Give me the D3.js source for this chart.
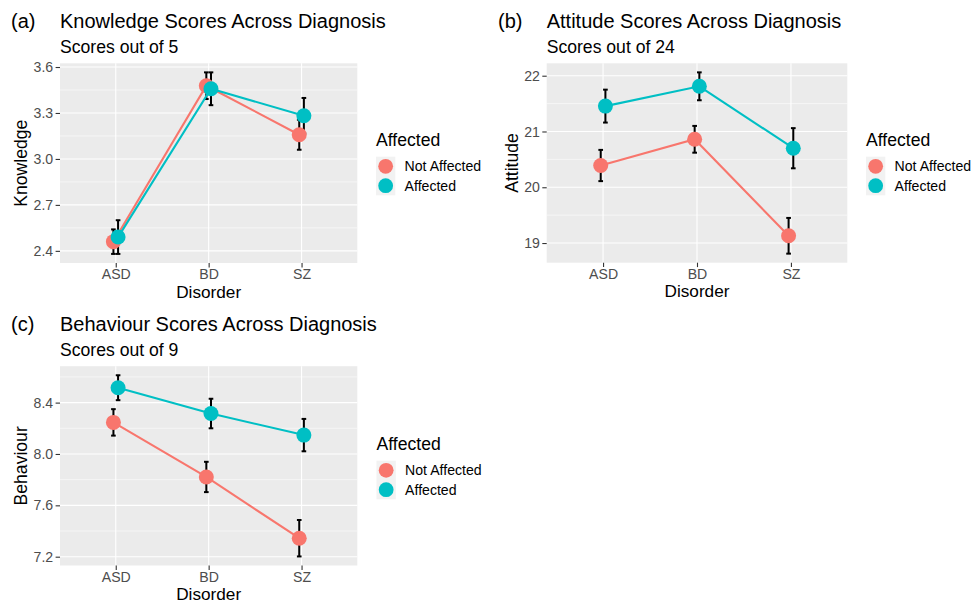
<!DOCTYPE html>
<html>
<head>
<meta charset="utf-8">
<script src="https://cdn.jsdelivr.net/npm/d3@7"></script>
<style>
  html, body { margin: 0; padding: 0; background: #ffffff; }
  svg { display: block; font-family: "Liberation Sans", Arial, Helvetica, sans-serif; }
</style>
</head>
<body>
<svg id="chart" width="974" height="604"></svg>
<script>
// ---------------- data ----------------
const categories = ["ASD", "BD", "SZ"];
const groups = ["Not Affected", "Affected"];
const groupColors = ["#F8766D", "#00BFC4"];

const knowledgeNotAffected   = [2.460, 3.478, 3.158];
const knowledgeNotAffectedSE = [0.080, 0.087, 0.098];
const knowledgeAffected      = [2.490, 3.458, 3.282];
const knowledgeAffectedSE    = [0.110, 0.107, 0.116];
const knowledgeTicks = [2.4, 2.7, 3.0, 3.3, 3.6];
const knowledgeTickLabels = ["2.4", "2.7", "3.0", "3.3", "3.6"];

const attitudeNotAffected   = [20.39, 20.86, 19.13];
const attitudeNotAffectedSE = [0.28, 0.24, 0.32];
const attitudeAffected      = [21.455, 21.81, 20.70];
const attitudeAffectedSE    = [0.295, 0.25, 0.36];
const attitudeTicks = [19, 20, 21, 22];
const attitudeTickLabels = ["19", "20", "21", "22"];

const behaviourNotAffected   = [8.246, 7.821, 7.344];
const behaviourNotAffectedSE = [0.103, 0.118, 0.142];
const behaviourAffected      = [8.516, 8.315, 8.147];
const behaviourAffectedSE    = [0.097, 0.115, 0.126];
const behaviourTicks = [7.2, 7.6, 8.0, 8.4];
const behaviourTickLabels = ["7.2", "7.6", "8.0", "8.4"];

const panelTags = ["(a)", "(b)", "(c)"];
const panelTitles = ["Knowledge Scores Across Diagnosis", "Attitude Scores Across Diagnosis", "Behaviour Scores Across Diagnosis"];
const panelSubtitles = ["Scores out of 5", "Scores out of 24", "Scores out of 9"];
const yAxisTitles = ["Knowledge", "Attitude", "Behaviour"];
const xAxisTitle = "Disorder";
const legendTitle = "Affected";

// ---------------- drawing ----------------
const svg = d3.select("#chart");
const FONT_TITLE = 20, FONT_SUB = 17.6, FONT_AXT = 17.6, FONT_XT = 17.2, FONT_TICK = 14.1;

function drawPanel(cfg) {
  const { box, means, ses, ticks, tickLabels, tag, title, subtitle, ylab, legend, tagX, yTitleX } = cfg;
  const g = svg.append("g");

  // y domain: data range incl. error bars, expanded 5%
  const lows = [], highs = [];
  means.forEach((m, gi) => m.forEach((v, i) => { lows.push(v - ses[gi][i]); highs.push(v + ses[gi][i]); }));
  const lo = d3.min(lows), hi = d3.max(highs), pad = (hi - lo) * 0.05;
  const y = d3.scaleLinear().domain([lo - pad, hi + pad]).range([box.y1, box.y0]);
  const x = d3.scalePoint().domain(categories).range([box.x0, box.x1]).padding(0.6);
  const dodge = x.step() * 0.025;
  const capHalf = x.step() * 0.025;

  // panel background
  g.append("rect").attr("x", box.x0).attr("y", box.y0)
    .attr("width", box.x1 - box.x0).attr("height", box.y1 - box.y0).attr("fill", "#EBEBEB");

  // minor grid
  const step = ticks[1] - ticks[0];
  const minor = [];
  for (let i = -1; i < ticks.length; i++) {
    const v = ticks[0] + step * (i + 0.5);
    if (v > y.domain()[0] && v < y.domain()[1]) minor.push(v);
  }
  g.selectAll(".minor").data(minor).join("line")
    .attr("x1", box.x0).attr("x2", box.x1)
    .attr("y1", d => y(d)).attr("y2", d => y(d))
    .attr("stroke", "#ffffff").attr("stroke-width", 0.55);
  // major grid
  g.selectAll(".majorY").data(ticks).join("line")
    .attr("x1", box.x0).attr("x2", box.x1)
    .attr("y1", d => y(d)).attr("y2", d => y(d))
    .attr("stroke", "#ffffff").attr("stroke-width", 1.1);
  g.selectAll(".majorX").data(categories).join("line")
    .attr("x1", d => x(d)).attr("x2", d => x(d))
    .attr("y1", box.y0).attr("y2", box.y1)
    .attr("stroke", "#ffffff").attr("stroke-width", 1.1);

  // axes
  const yAxis = d3.axisLeft(y).tickValues(ticks).tickFormat((d, i) => tickLabels[i])
    .tickSize(4.4).tickPadding(2.4);
  const ya = g.append("g").attr("transform", `translate(${box.x0},0)`).call(yAxis);
  ya.select(".domain").remove();
  ya.selectAll("line").attr("stroke", "#333333").attr("stroke-width", 1.1);
  ya.selectAll("text").attr("fill", "#4D4D4D").style("font-size", FONT_TICK + "px")
    .style("font-family", "Liberation Sans, Arial, sans-serif");

  const xAxis = d3.axisBottom(x).tickSize(4.4).tickPadding(1.8);
  const xa = g.append("g").attr("transform", `translate(0,${box.y1})`).call(xAxis);
  xa.select(".domain").remove();
  xa.selectAll("line").attr("stroke", "#333333").attr("stroke-width", 1.1);
  xa.selectAll("text").attr("fill", "#4D4D4D").style("font-size", FONT_TICK + "px")
    .style("font-family", "Liberation Sans, Arial, sans-serif");

  // axis titles
  g.append("text").attr("x", (box.x0 + box.x1) / 2).attr("y", box.y1 + 34.6)
    .attr("text-anchor", "middle").style("font-size", FONT_XT + "px").attr("fill", "#000")
    .text(xAxisTitle);
  g.append("text").attr("transform", `translate(${yTitleX},${(box.y0 + box.y1) / 2}) rotate(-90)`)
    .attr("text-anchor", "middle").style("font-size", FONT_AXT + "px").attr("fill", "#000")
    .text(ylab);

  // titles
  g.append("text").attr("x", tagX).attr("y", box.y0 - 35.5)
    .style("font-size", FONT_TITLE + "px").attr("fill", "#000").text(tag);
  g.append("text").attr("x", box.x0).attr("y", box.y0 - 35.5)
    .style("font-size", FONT_TITLE + "px").attr("fill", "#000").text(title);
  g.append("text").attr("x", box.x0).attr("y", box.y0 - 10.5)
    .style("font-size", FONT_SUB + "px").attr("fill", "#000").text(subtitle);

  // series data
  const series = groups.map((grp, gi) => ({
    grp, gi, color: groupColors[gi],
    pts: categories.map((c, i) => ({ c, v: means[gi][i], se: ses[gi][i], gi }))
  }));
  const px = d => x(d.c) + (d.gi === 0 ? -dodge : dodge);

  // error bars
  series.forEach(s => {
    const eb = g.append("g");
    s.pts.forEach(d => {
      const cx = px(d);
      eb.append("line").attr("x1", cx).attr("x2", cx).attr("y1", y(d.v - d.se)).attr("y2", y(d.v + d.se))
        .attr("stroke", "#000").attr("stroke-width", 2);
      [d.v - d.se, d.v + d.se].forEach(v => {
        eb.append("line").attr("x1", cx - capHalf).attr("x2", cx + capHalf).attr("y1", y(v)).attr("y2", y(v))
          .attr("stroke", "#000").attr("stroke-width", 2);
      });
    });
  });
  // lines
  const line = d3.line().x(px).y(d => y(d.v));
  series.forEach(s => {
    g.append("path").datum(s.pts).attr("d", line).attr("fill", "none")
      .attr("stroke", s.color).attr("stroke-width", 2.1);
  });
  // points
  series.forEach(s => {
    g.selectAll(null).data(s.pts).join("circle")
      .attr("cx", px).attr("cy", d => y(d.v)).attr("r", 7.5).attr("fill", s.color);
  });

  // legend
  const lg = g.append("g");
  lg.append("text").attr("x", legend.x).attr("y", legend.y)
    .style("font-size", FONT_AXT + "px").attr("fill", "#000").text(legendTitle);
  const key = 19.3;
  groups.forEach((grp, gi) => {
    const ky = legend.y + 10.7 + gi * key;
    lg.append("rect").attr("x", legend.x).attr("y", ky).attr("width", key).attr("height", key).attr("fill", "#F2F2F2");
    lg.append("circle").attr("cx", legend.x + key / 2).attr("cy", ky + key / 2).attr("r", 7.4).attr("fill", groupColors[gi]);
    lg.append("text").attr("x", legend.x + key + 9.3).attr("y", ky + key / 2).attr("dy", "0.35em")
      .style("font-size", FONT_TICK + "px").attr("fill", "#000").text(grp);
  });
}

drawPanel({
  box: { x0: 60, x1: 357.3, y0: 63.3, y1: 263 },
  means: [knowledgeNotAffected, knowledgeAffected],
  ses: [knowledgeNotAffectedSE, knowledgeAffectedSE],
  ticks: knowledgeTicks, tickLabels: knowledgeTickLabels,
  tag: panelTags[0], title: panelTitles[0], subtitle: panelSubtitles[0], ylab: yAxisTitles[0],
  legend: { x: 376, y: 146 }, tagX: 11, yTitleX: 26.5
});
drawPanel({
  box: { x0: 546.7, x1: 847.3, y0: 63.3, y1: 262.7 },
  means: [attitudeNotAffected, attitudeAffected],
  ses: [attitudeNotAffectedSE, attitudeAffectedSE],
  ticks: attitudeTicks, tickLabels: attitudeTickLabels,
  tag: panelTags[1], title: panelTitles[1], subtitle: panelSubtitles[1], ylab: yAxisTitles[1],
  legend: { x: 866, y: 146 }, tagX: 498, yTitleX: 518
});
drawPanel({
  box: { x0: 60, x1: 357.3, y0: 366.2, y1: 565.5 },
  means: [behaviourNotAffected, behaviourAffected],
  ses: [behaviourNotAffectedSE, behaviourAffectedSE],
  ticks: behaviourTicks, tickLabels: behaviourTickLabels,
  tag: panelTags[2], title: panelTitles[2], subtitle: panelSubtitles[2], ylab: yAxisTitles[2],
  legend: { x: 376.5, y: 450 }, tagX: 11, yTitleX: 26.5
});
</script>
</body>
</html>
